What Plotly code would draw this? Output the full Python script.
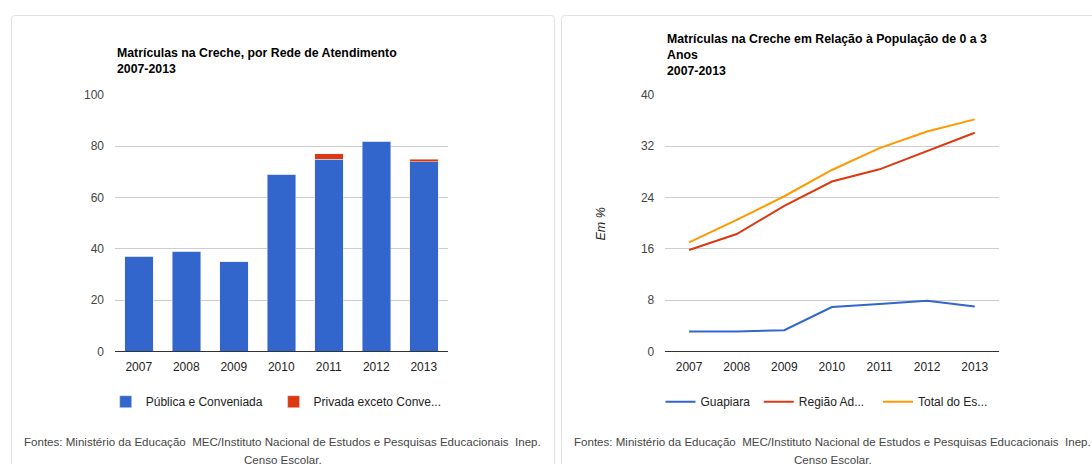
import plotly.graph_objects as go

W, H = 1092, 464

# data
years = ["2007", "2008", "2009", "2010", "2011", "2012", "2013"]
publica_conveniada = [37, 39, 35, 69, 75, 82, 74]
privada_exceto = [0, 0, 0, 0, 2, 0, 1]

guapiara = [3.1, 3.1, 3.3, 6.9, 7.4, 7.9, 7.0]
regiao_adm = [15.8, 18.3, 22.7, 26.5, 28.4, 31.3, 34.1]
total_estado = [17.0, 20.5, 24.2, 28.3, 31.7, 34.3, 36.2]

bar_ticks = [0, 20, 40, 60, 80, 100]
line_ticks = [0, 8, 16, 24, 32, 40]

FONT = "Arial, Liberation Sans, sans-serif"
fonte = ("Fontes: Ministério da Educação  MEC/Instituto Nacional de Estudos e "
         "Pesquisas Educacionais  Inep.")


def px(x):
    return x / W


def py(y):
    return 1 - y / H


def card_path(x0, x1, y0, y1, r=3):
    return (f"M {px(x0)},{py(y1)} L {px(x0)},{py(y0 + r)} "
            f"Q {px(x0)},{py(y0)} {px(x0 + r)},{py(y0)} "
            f"L {px(x1 - r)},{py(y0)} Q {px(x1)},{py(y0)} {px(x1)},{py(y0 + r)} "
            f"L {px(x1)},{py(y1)}")


fig = go.Figure()

fig.add_trace(go.Bar(x=years, y=publica_conveniada, name="Pública e Conveniada",
                     marker_color="#3366cc", xaxis="x", yaxis="y", legend="legend"))
fig.add_trace(go.Bar(x=years, y=privada_exceto, name="Privada exceto Conve...",
                     marker_color="#dc3912", xaxis="x", yaxis="y", legend="legend2",
                     hovertemplate="Privada exceto Conveniada: %{y}<extra></extra>"))

line_series = [(guapiara, "Guapiara", "#3366cc", "legend3"),
               (regiao_adm, "Região Ad...", "#dc3912", "legend4"),
               (total_estado, "Total do Es...", "#ff9900", "legend5")]
for vals, name, color, leg in line_series:
    fig.add_trace(go.Scatter(x=years, y=vals, name=name, mode="lines",
                             line=dict(color=color, width=2),
                             xaxis="x2", yaxis="y2", legend=leg))

ydom = [py(351.3), py(95)]
axis_common = dict(type="category", range=[-0.5, 6.5], showgrid=False, showline=True,
                   linecolor="#333", linewidth=1, ticks="",
                   tickfont=dict(size=12, color="#222"), ticklabelstandoff=4,
                   fixedrange=True, automargin=False)
yaxis_common = dict(showgrid=True, gridcolor="#cccccc", gridwidth=1, zeroline=False,
                    showline=False, ticks="", tickfont=dict(size=12, color="#444"),
                    ticklabelstandoff=10, fixedrange=True, automargin=False)

# one legend per entry so each label sits where the reference has it
legend_text_x = {"legend": 145.7, "legend2": 313.6, "legend3": 700.5,
                 "legend4": 798.8, "legend5": 918}
legends = {}
for leg, tx in legend_text_x.items():
    legends[leg] = dict(orientation="h", x=px(tx - 40), y=py(401.7), xanchor="left",
                        yanchor="middle", font=dict(size=12, color="#222"),
                        bgcolor="rgba(0,0,0,0)")

fig.update_layout(
    width=W, height=H, autosize=False, showlegend=True,
    margin=dict(l=0, r=0, t=0, b=0, pad=0, autoexpand=False),
    paper_bgcolor="white", plot_bgcolor="white",
    font=dict(family=FONT, size=12, color="#222"),
    barmode="stack", bargap=0.4,
    xaxis=dict(domain=[px(115), px(447.5)], anchor="y", **axis_common),
    yaxis=dict(domain=ydom, anchor="x", range=[0, 100], tickvals=bar_ticks, **yaxis_common),
    xaxis2=dict(domain=[px(665.3), px(998.5)], anchor="y2", **axis_common),
    yaxis2=dict(domain=ydom, anchor="x2", range=[0, 40], tickvals=line_ticks, **yaxis_common),
    shapes=[
        dict(type="path", xref="paper", yref="paper", path=card_path(11.5, 554.5, 15.5, 480),
             line=dict(color="#e2e2e2", width=1)),
        dict(type="path", xref="paper", yref="paper", path=card_path(561.5, 1105, 15.5, 480),
             line=dict(color="#e2e2e2", width=1)),
    ],
    **legends,
)

annotations = []
title_lines = [
    (115, 52.7, "Matrículas na Creche, por Rede de Atendimento"),
    (115, 69, "2007-2013"),
    (665.3, 39.3, "Matrículas na Creche em Relação à População de 0 a 3"),
    (665.3, 55.3, "Anos"),
    (665.3, 71, "2007-2013"),
]
for x, y, txt in title_lines:
    annotations.append(dict(x=px(x), y=py(y), xref="paper", yref="paper", text=f"<b>{txt}</b>",
                            showarrow=False, xanchor="left", yanchor="middle",
                            font=dict(size=12.3, color="#000")))

annotations.append(dict(x=px(600.5), y=py(224), xref="paper", yref="paper", text="<i>Em %</i>",
                        textangle=-90, showarrow=False, xanchor="center", yanchor="middle",
                        font=dict(size=12.5, color="#222")))

for cx in (282.7, 832.5):
    annotations.append(dict(x=px(cx), y=py(441.7), xref="paper", yref="paper", text=fonte,
                            showarrow=False, xanchor="center", yanchor="middle",
                            font=dict(size=11.55, color="#444")))
    annotations.append(dict(x=px(cx), y=py(460), xref="paper", yref="paper", text="Censo Escolar.",
                            showarrow=False, xanchor="center", yanchor="middle",
                            font=dict(size=11.55, color="#444")))

fig.update_layout(annotations=annotations)

fig.write_html("out.html", config={"displayModeBar": False},
               post_script="document.body.style.margin='0';")
